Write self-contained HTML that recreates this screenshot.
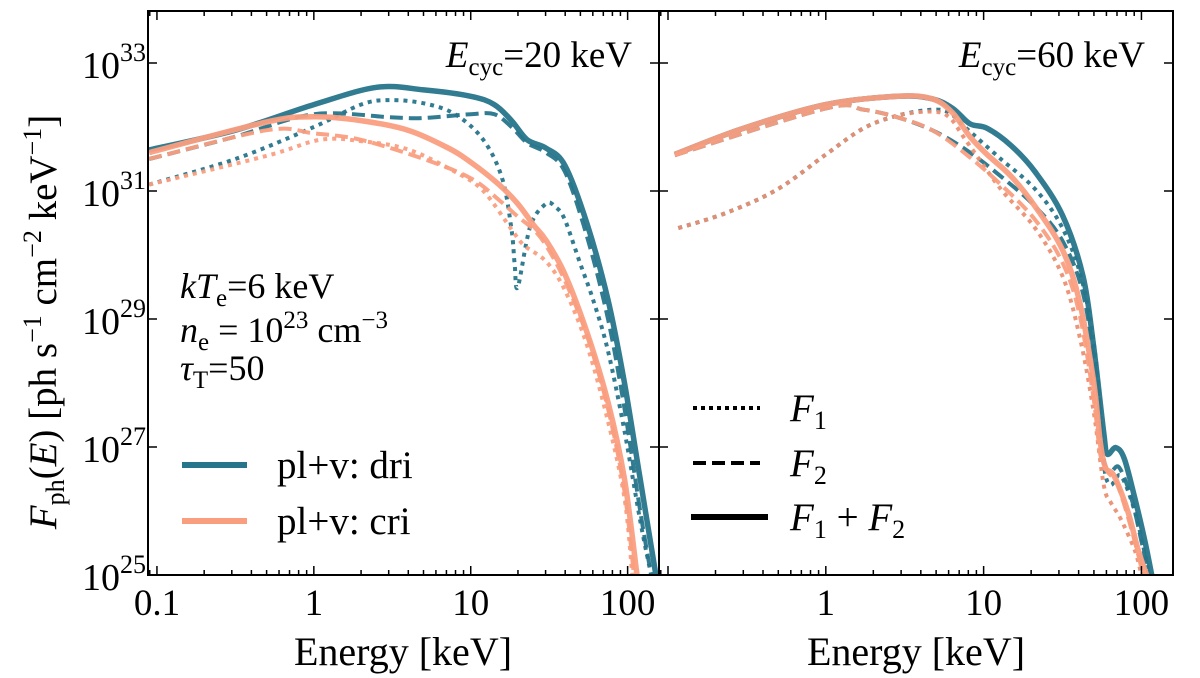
<!DOCTYPE html>
<html><head><meta charset="utf-8"><style>
html,body{margin:0;padding:0;background:#fff;}
svg{display:block;font-family:"Liberation Serif","DejaVu Serif",serif;}
</style></head><body>
<svg id="chart" width="1200" height="678" viewBox="0 0 1200 678" xmlns="http://www.w3.org/2000/svg">
<g id="curves"></g>
<g id="axes"></g>
<g id="texts">
  <text x="632" y="67" font-size="37" text-anchor="end"><tspan font-style="italic">E</tspan><tspan font-size="25" dy="8">cyc</tspan><tspan dy="-8">=20 keV</tspan></text>
  <text x="1145" y="67" font-size="37" text-anchor="end"><tspan font-style="italic">E</tspan><tspan font-size="25" dy="8">cyc</tspan><tspan dy="-8">=60 keV</tspan></text>
  <text x="180" y="298" font-size="36"><tspan font-style="italic">kT</tspan><tspan font-size="25" dy="8">e</tspan><tspan dy="-8">=6 keV</tspan></text>
  <text x="180" y="342" font-size="36"><tspan font-style="italic">n</tspan><tspan font-size="25" dy="8">e</tspan><tspan dy="-8"> = 10</tspan><tspan font-size="25" dy="-14">23</tspan><tspan dy="14"> cm</tspan><tspan font-size="25" dy="-14">−3</tspan></text>
  <text x="180" y="380" font-size="36"><tspan font-style="italic">τ</tspan><tspan font-size="25" dy="8">T</tspan><tspan dy="-8">=50</tspan></text>
</g>
<g>
  <line x1="182" y1="465" x2="247" y2="465" stroke="#27758b" stroke-width="6"/>
  <text x="277" y="478" font-size="39">pl+v: dri</text>
  <line x1="182" y1="521" x2="247" y2="521" stroke="#fa9e80" stroke-width="6"/>
  <text x="277" y="534" font-size="39">pl+v: cri</text>
</g>
<g>
  <line x1="693" y1="408" x2="760" y2="408" stroke="#000" stroke-width="4" stroke-dasharray="4,4"/>
  <text x="790" y="421" font-size="39" font-style="italic">F<tspan font-size="26" dy="8" font-style="normal">1</tspan></text>
  <line x1="693" y1="463" x2="760" y2="463" stroke="#000" stroke-width="4" stroke-dasharray="13,6"/>
  <text x="790" y="476" font-size="39" font-style="italic">F<tspan font-size="26" dy="8" font-style="normal">2</tspan></text>
  <line x1="691" y1="517" x2="768" y2="517" stroke="#000" stroke-width="6"/>
  <text x="790" y="530" font-size="39"><tspan font-style="italic">F</tspan><tspan font-size="26" dy="8">1</tspan><tspan dy="-8"> + </tspan><tspan font-style="italic">F</tspan><tspan font-size="26" dy="8">2</tspan></text>
</g>
<text x="403" y="665" font-size="40" text-anchor="middle">Energy [keV]</text>
<text x="916" y="665" font-size="40" text-anchor="middle">Energy [keV]</text>
<text transform="translate(56,322) rotate(-90)" font-size="39" text-anchor="middle"><tspan font-style="italic">F</tspan><tspan font-size="26" dy="8">ph</tspan><tspan dy="-8">(</tspan><tspan font-style="italic">E</tspan><tspan>) [ph s</tspan><tspan font-size="26" dy="-15">−1</tspan><tspan dy="15"> cm</tspan><tspan font-size="26" dy="-15">−2</tspan><tspan dy="15"> keV</tspan><tspan font-size="26" dy="-15">−1</tspan><tspan dy="15">]</tspan></text>
</svg>
<script>
// ---- data (log10 E [keV], log10 F) ----
const L_blueSolid_x = [-1.05,-0.5,0,0.4,0.7,1,1.15,1.26,1.36,1.48,1.6,1.74,1.875,1.98,2.08,2.18];
const L_blueSolid_y = [31.64,31.95,32.35,32.62,32.58,32.48,32.35,32.1,31.8,31.67,31.4,30.5,29.3,28.0,26.5,25.0];
const L_blueDash_x = [-1.05,-0.5,0,0.5,0.7,1,1.15,1.26,1.36,1.48,1.6,1.74,1.875,1.98,2.08,2.15];
const L_blueDash_y = [31.5,31.85,32.2,32.15,32.14,32.2,32.2,32.0,31.75,31.6,31.3,30.3,29.0,27.6,26.0,25.0];
const L_blueDot_x = [-1.05,-0.5,0,0.3,0.48,0.7,0.9,1.08,1.2,1.26,1.28,1.3,1.38,1.48,1.54,1.6,1.7,1.78,1.875,1.98,2.08,2.15];
const L_blueDot_y = [31.1,31.5,32.0,32.35,32.42,32.37,32.2,31.8,31.2,30.4,29.85,29.5,30.45,30.8,30.75,30.55,29.85,29.3,28.5,27.25,25.85,25.0];
const L_orSolid_x = [-1.05,-0.3,0,0.3,0.6,0.85,1,1.18,1.3,1.4,1.48,1.6,1.74,1.875,1.98,2.06];
const L_orSolid_y = [31.6,32.08,32.16,32.1,31.95,31.68,31.45,31.1,30.8,30.47,30.23,29.7,28.8,27.7,26.5,25.0];
const L_orDash_x = [-1.05,-0.3,0,0.3,0.7,1,1.18,1.3,1.4,1.48,1.6,1.74,1.875,1.98,2.04];
const L_orDash_y = [31.5,31.95,31.9,31.8,31.5,31.2,30.86,30.6,30.4,30.15,29.6,28.75,27.6,26.3,25.0];
const L_orDot_x = [-1.05,-0.3,0.04,0.3,0.6,0.9,1.08,1.26,1.34,1.48,1.6,1.74,1.875,1.98,2.03];
const L_orDot_y = [31.1,31.55,31.8,31.78,31.65,31.3,31.0,30.4,30.15,29.9,29.45,28.6,27.4,26.2,25.0];

const R_blueSolid_x = [-0.957,-0.522,0,0.457,0.674,0.804,0.913,1.022,1.174,1.326,1.5,1.63,1.696,1.761,1.783,1.837,1.891,1.957,2.022,2.065];
const R_blueSolid_y = [31.57,31.98,32.35,32.48,32.44,32.29,32.05,31.98,31.71,31.3,30.62,29.67,28.59,27.23,26.89,26.99,26.82,26.21,25.53,25.0];
const R_orSolid_x = [-0.957,-0.522,0,0.457,0.674,0.804,0.913,1.022,1.174,1.326,1.5,1.609,1.696,1.739,1.772,1.826,1.913,1.978,2.033];
const R_orSolid_y = [31.57,31.98,32.35,32.48,32.44,32.22,31.85,31.57,31.23,30.76,30.08,29.26,28.04,27.09,26.68,26.55,26.0,25.4,25.0];
const R_blueDash_x = [-0.957,0,0.239,0.457,0.674,0.891,1.109,1.326,1.5,1.63,1.717,1.761,1.804,1.859,1.935,2.0,2.048];
const R_blueDash_y = [31.56,32.29,32.27,32.15,31.95,31.64,31.23,30.76,30.22,29.4,28.04,26.82,26.62,26.68,26.21,25.53,25.0];
const R_orDash_x = [-0.957,0,0.239,0.457,0.674,0.891,1.109,1.326,1.5,1.609,1.696,1.739,1.783,1.848,1.935,2.011];
const R_orDash_y = [31.56,32.29,32.27,32.15,31.95,31.57,31.1,30.55,29.88,29.06,27.77,26.89,26.62,26.41,25.73,25.0];
const R_orDot_x = [-0.935,-0.63,-0.304,0,0.239,0.457,0.674,0.783,0.891,1.109,1.326,1.5,1.609,1.696,1.761,1.804,1.87,1.957,2.0];
const R_orDot_y = [30.42,30.66,31.03,31.57,31.98,32.18,32.24,32.15,31.78,31.03,30.42,29.67,28.72,27.57,26.41,26.14,25.87,25.39,25.0];
const R_blueDot_x = [-0.935,-0.63,-0.304,0,0.239,0.457,0.674,0.783,0.891,1.109,1.326,1.5,1.63,1.717,1.761,1.804,1.87,1.957,2.022,2.048];
const R_blueDot_y = [30.42,30.66,31.03,31.57,31.98,32.18,32.27,32.22,31.98,31.5,31.03,30.42,29.54,28.25,26.75,26.41,26.55,26.0,25.33,25.0];

const xTickValsLeft = [0.1,1,10,100];
const xTickLabelsLeft = ["0.1","1","10","100"];
const xTickValsRight = [1,10,100];
const xTickLabelsRight = ["1","10","100"];
const yTickExps = [25,27,29,31,33];

// ---- axes ----
const NS='http://www.w3.org/2000/svg';
const LOGMIN=-1.057, LOGMAX=2.2, YTOP=11, YBOT=575, FMIN=25, FMAX=33.8125;
const panels=[{x0:148,x1:659},{x0:659,x1:1173}];
function sx(p,le){return p.x0+(le-LOGMIN)/(LOGMAX-LOGMIN)*(p.x1-p.x0);}
function sy(lf){return YBOT-(lf-FMIN)/(FMAX-FMIN)*(YBOT-YTOP);}
function mk(tag,attrs,parent){const e=document.createElementNS(NS,tag);for(const k in attrs)e.setAttribute(k,attrs[k]);parent.appendChild(e);return e;}
function smoothPath(pts){
  let d='M'+pts[0][0].toFixed(1)+','+pts[0][1].toFixed(1);
  for(let i=0;i<pts.length-1;i++){
    const p0=pts[Math.max(i-1,0)],p1=pts[i],p2=pts[i+1],p3=pts[Math.min(i+2,pts.length-1)];
    const c1=[p1[0]+(p2[0]-p0[0])/6,p1[1]+(p2[1]-p0[1])/6];
    const c2=[p2[0]-(p3[0]-p1[0])/6,p2[1]-(p3[1]-p1[1])/6];
    d+='C'+c1[0].toFixed(1)+','+c1[1].toFixed(1)+' '+c2[0].toFixed(1)+','+c2[1].toFixed(1)+' '+p2[0].toFixed(1)+','+p2[1].toFixed(1);
  }
  return d;
}
const curvesG=document.getElementById('curves'), axesG=document.getElementById('axes');
const BLUE='#27758b', ORANGE='#fa9e80';
const series=[
 [0,L_blueDot_x,L_blueDot_y,BLUE,4,'4,5','left-dri-f1'],
 [0,L_blueDash_x,L_blueDash_y,BLUE,4,'13,6','left-dri-f2'],
 [0,L_blueSolid_x,L_blueSolid_y,BLUE,5.5,'','left-dri-total'],
 [0,L_orDot_x,L_orDot_y,ORANGE,4,'4,5','left-cri-f1'],
 [0,L_orDash_x,L_orDash_y,ORANGE,4,'13,6','left-cri-f2'],
 [0,L_orSolid_x,L_orSolid_y,ORANGE,5.5,'','left-cri-total'],
 [1,R_blueDot_x,R_blueDot_y,BLUE,4,'4,5','right-dri-f1'],
 [1,R_blueDash_x,R_blueDash_y,BLUE,4,'13,6','right-dri-f2'],
 [1,R_blueSolid_x,R_blueSolid_y,BLUE,5.5,'','right-dri-total'],
 [1,R_orDot_x,R_orDot_y,'#ec8f72',4,'4,5','right-cri-f1'],
 [1,R_orDash_x,R_orDash_y,ORANGE,4,'13,6','right-cri-f2'],
 [1,R_orSolid_x,R_orSolid_y,ORANGE,5.5,'','right-cri-total']
];
const clip=mk('clipPath',{id:'cl'},mk('defs',{},document.getElementById('chart')));
mk('rect',{x:148,y:11,width:1025,height:564},clip);
curvesG.setAttribute('clip-path','url(#cl)');
series.forEach(s=>{
  const p=panels[s[0]];
  const pts=s[1].map((v,i)=>[sx(p,v),sy(s[2][i])]);
  const path=mk('path',{d:smoothPath(pts),fill:'none',stroke:s[3],'stroke-width':s[4],'stroke-linejoin':'round','stroke-opacity':0.95},curvesG);
  if(s[5])path.setAttribute('stroke-dasharray',s[5]);
  
  
});
panels.forEach((p,pi)=>{
  const fr=mk('rect',{x:p.x0,y:YTOP,width:p.x1-p.x0,height:YBOT-YTOP,fill:'none',stroke:'#000','stroke-width':2},axesG);
  
  
  for(let dec=-2;dec<=2;dec++){for(let m=1;m<10;m++){
    const le=dec+Math.log10(m); if(le<LOGMIN||le>LOGMAX)continue;
    const X=sx(p,le), len=m===1?9:5;
    mk('line',{x1:X,y1:YBOT,x2:X,y2:YBOT-len,stroke:'#000','stroke-width':1.5},axesG);
    mk('line',{x1:X,y1:YTOP,x2:X,y2:YTOP+len,stroke:'#000','stroke-width':1.5},axesG);
  }}
  const tv=pi===0?xTickValsLeft:xTickValsRight, tl=pi===0?xTickLabelsLeft:xTickLabelsRight;
  tv.forEach((v,i)=>{
    const t=mk('text',{x:sx(p,Math.log10(v)),y:615,'font-size':37,'text-anchor':'middle'},axesG);
    t.textContent=tl[i];
    
    
  });
  yTickExps.forEach(e=>{
    const Y=sy(e);
    mk('line',{x1:p.x0,y1:Y,x2:p.x0+9,y2:Y,stroke:'#000','stroke-width':1.5},axesG);
    mk('line',{x1:p.x1,y1:Y,x2:p.x1-9,y2:Y,stroke:'#000','stroke-width':1.5},axesG);
    if(pi===0){
      const t=mk('text',{x:82,y:Y+15,'font-size':38},axesG);
      t.textContent='10';
      mk('tspan',{'font-size':26,dy:-17},t).textContent=String(e);
      
      
    }
  });
});
</script>
</body></html>
